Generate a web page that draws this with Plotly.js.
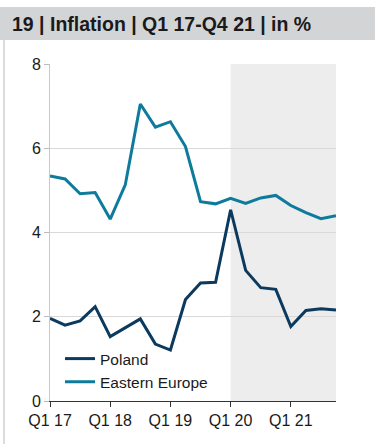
<!DOCTYPE html>
<html><head><meta charset="utf-8">
<script src="https://cdn.plot.ly/plotly-3.0.1.min.js"></script>
<style>html,body{margin:0;padding:0;background:#fff}#c{width:375px;height:444px}</style>
</head><body><div id="c"></div>
<script>
const quarters = ["Q1 17","Q2 17","Q3 17","Q4 17","Q1 18","Q2 18","Q3 18","Q4 18","Q1 19","Q2 19","Q3 19","Q4 19","Q1 20","Q2 20","Q3 20","Q4 20","Q1 21","Q2 21","Q3 21","Q4 21"];
const poland = [1.96,1.80,1.90,2.24,1.53,1.73,1.95,1.35,1.21,2.41,2.80,2.82,4.54,3.10,2.69,2.65,1.77,2.15,2.19,2.16];
const easternEurope = [5.34,5.27,4.92,4.95,4.32,5.13,7.05,6.50,6.63,6.04,4.73,4.68,4.81,4.69,4.82,4.88,4.64,4.47,4.33,4.40];
const tickLabels = ["Q1 17","Q1 18","Q1 19","Q1 20","Q1 21"];
const shadeStart = "Q1 20";

const idx = quarters.map((q,i)=>i);
const tickVals = tickLabels.map(t=>quarters.indexOf(t));

const traces = [
  {x: idx, y: poland, name: "Poland", type: "scatter", mode: "lines", line: {color: "#0b3a5e", width: 3}},
  {x: idx, y: easternEurope, name: "Eastern Europe", type: "scatter", mode: "lines", line: {color: "#0e7a9c", width: 3}}
];

const layout = {
  width: 375, height: 444,
  margin: {l: 50, r: 39, t: 64, b: 43},
  paper_bgcolor: "#fff", plot_bgcolor: "#fff",
  font: {family: "Liberation Sans, Arial, sans-serif", size: 16, color: "#1a1a1a"},
  showlegend: true,
  legend: {x: 0.035, y: 0.175, xanchor: "left", yanchor: "top", bgcolor: "rgba(0,0,0,0)", font: {size: 15.5}, tracegroupgap: 0, itemwidth: 30},
  xaxis: {range: [0, quarters.length-1], tickmode: "array", tickvals: tickVals, ticktext: tickLabels,
    ticks: "outside", ticklen: 5, tickcolor: "#333", showline: true, linecolor: "#333", linewidth: 1,
    showgrid: false, zeroline: false, fixedrange: true},
  yaxis: {range: [0, 8], tickvals: [0,2,4,6,8], ticks: "outside", ticklen: 5, tickcolor: "#bbb",
    showline: true, linecolor: "#c8c8c8", showgrid: true, gridcolor: "#d9d9d9", zeroline: false, fixedrange: true},
  shapes: [
    {type: "rect", xref: "x", yref: "paper", x0: quarters.indexOf(shadeStart), x1: quarters.length-1, y0: 0, y1: 1,
      fillcolor: "#ededed", line: {width: 0}, layer: "below"},
    {type: "rect", xref: "paper", yref: "paper", x0: -0.1748, x1: 1.137, y0: 1.071, y1: 1.169,
      fillcolor: "#d3d4d6", line: {width: 0}, layer: "below"},
    {type: "line", xref: "paper", yref: "paper", x0: -0.1608, x1: -0.1608, y0: 1.071, y1: -0.13,
      line: {color: "#d0d0d0", width: 1.5}}
  ],
  annotations: [
    {xref: "paper", yref: "paper", x: -0.1399, y: 1.12, xanchor: "left", yanchor: "middle", showarrow: false,
      text: "<b>19 | Inflation | Q1 17-Q4 21 | in %</b>", font: {size: 19.5, color: "#1a1a1a"}}
  ]
};
Plotly.newPlot("c", traces, layout, {displayModeBar: false, staticPlot: true});
</script>
</body></html>
